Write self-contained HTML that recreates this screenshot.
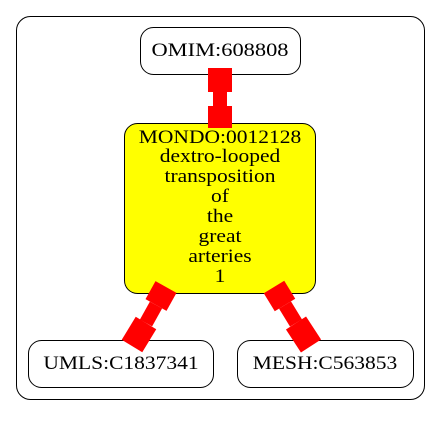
<!DOCTYPE html>
<html><head><style>body{margin:0;background:#fff}</style></head><body>
<svg width="440" height="416" xmlns="http://www.w3.org/2000/svg" font-family="Liberation Serif, serif" font-size="18.7">
<rect x="16.5" y="16.5" width="408" height="383" rx="14" fill="none" stroke="#000"/>
<rect x="140.5" y="27.5" width="160" height="47" rx="13" fill="#fff" stroke="#000"/>
<g transform="translate(220,0) scale(1.2,1)" text-anchor="middle"><text x="0" y="56">OMIM:608808</text></g>
<rect x="124.5" y="123.5" width="191" height="170" rx="13" fill="#ff0" stroke="#000"/>
<g transform="translate(220,0) scale(1.15,1)" text-anchor="middle">
<text x="0" y="143">MONDO:0012128</text>
<text x="0" y="162">dextro-looped</text>
<text x="0" y="182">transposition</text>
<text x="0" y="202">of</text>
<text x="0" y="222">the</text>
<text x="0" y="242">great</text>
<text x="0" y="262">arteries</text>
<text x="0" y="282">1</text>
</g>
<rect x="28.5" y="340.5" width="185" height="47" rx="13" fill="#fff" stroke="#000"/>
<g transform="translate(121,0) scale(1.15,1)" text-anchor="middle"><text x="0" y="369">UMLS:C1837341</text></g>
<rect x="237.5" y="340.5" width="176" height="47" rx="13" fill="#fff" stroke="#000"/>
<g transform="translate(325,0) scale(1.15,1)" text-anchor="middle"><text x="0" y="369">MESH:C563853</text></g>
<g stroke="red" fill="none">
<line x1="220" y1="68" x2="220" y2="92" stroke-width="24"/>
<line x1="220" y1="92" x2="220" y2="106" stroke-width="14"/>
<line x1="220" y1="106" x2="220" y2="128" stroke-width="24"/>
<line x1="166" y1="287" x2="156" y2="305" stroke-width="24"/>
<line x1="156" y1="305" x2="146" y2="323" stroke-width="14"/>
<line x1="146" y1="323" x2="132" y2="346" stroke-width="24"/>
<line x1="274" y1="287" x2="285" y2="305" stroke-width="24"/>
<line x1="285" y1="305" x2="296" y2="323" stroke-width="14"/>
<line x1="296" y1="323" x2="311" y2="346" stroke-width="24"/>
</g>
</svg>
</body></html>
